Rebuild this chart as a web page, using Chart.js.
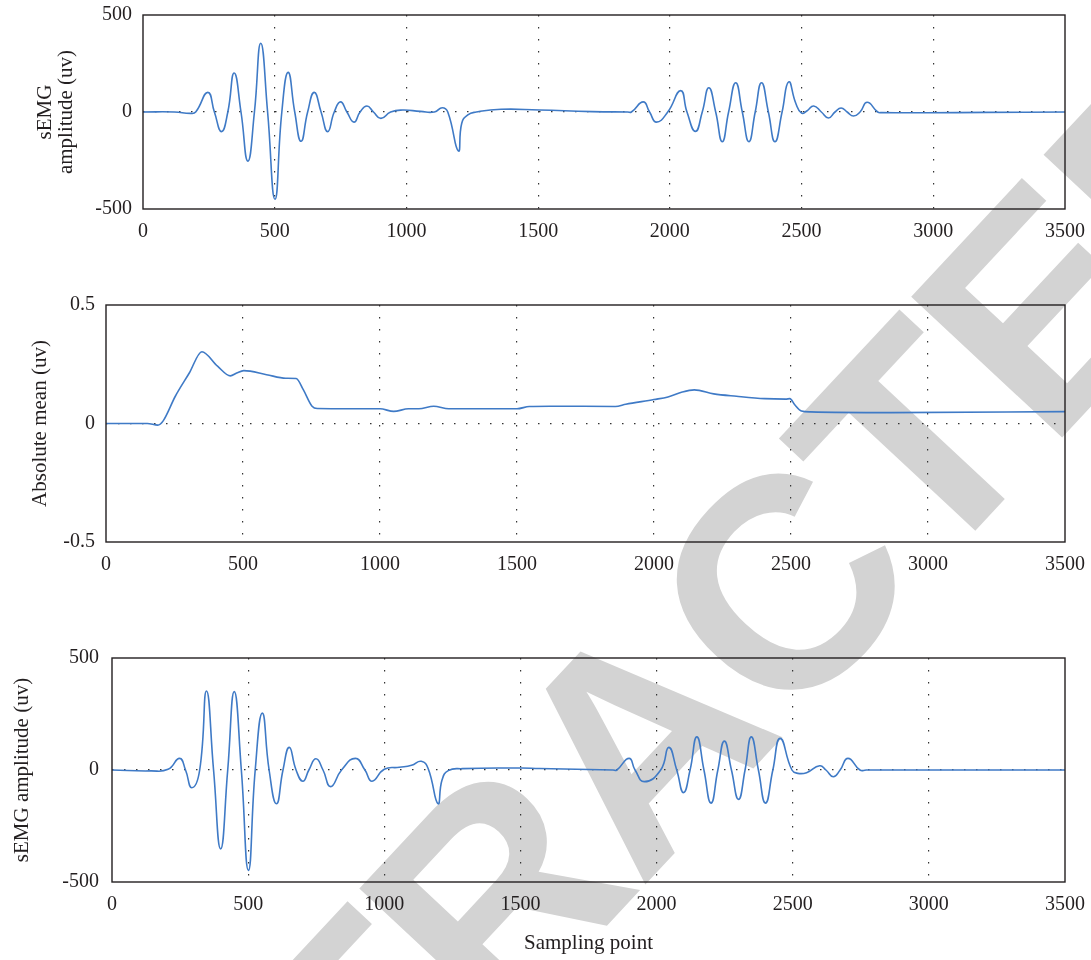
<!DOCTYPE html>
<html>
<head>
<meta charset="utf-8">
<script src="https://cdn.jsdelivr.net/npm/chart.js@4.4.1/dist/chart.umd.min.js"></script>
<style>
  body { margin: 0; background: #fff; width: 1091px; height: 960px; position: relative; overflow: hidden; }
  #stamp {
    position: absolute; left: 636px; top: 742px; z-index: 0;
    font: bold 300px "Liberation Sans", Arial, sans-serif; line-height: 1; letter-spacing: -6px;
    color: #d3d3d3; white-space: nowrap;
    transform: translate(-50%, -50%) rotate(-47deg);
  }
  .panel { position: absolute; left: 0; width: 1096px; z-index: 1; }
</style>
</head>
<body>
<div id="stamp">RETRACTED</div>
<div class="panel" style="top:-10px;height:270px"><canvas id="raw-chart"></canvas></div>
<div class="panel" style="top:260px;height:330px"><canvas id="mean-chart"></canvas></div>
<div class="panel" style="top:590px;height:370px"><canvas id="filtered-chart"></canvas></div>
<script>
const xTicks = [0, 500, 1000, 1500, 2000, 2500, 3000, 3500];
const ampTicks = [-500, 0, 500];
const meanTicks = [-0.5, 0, 0.5];

// top panel: raw sEMG
const rawX = [0, 120, 180, 200, 246, 271, 298, 322, 346, 372, 398, 423, 447, 473, 501, 527, 551, 576, 600, 625,
  650, 676, 701, 726, 750, 774, 801, 824, 850, 875, 903, 940, 986, 1053, 1106, 1136, 1157, 1197, 1210, 1233,
  1265, 1359, 1505, 1705, 1840, 1854, 1899, 1923, 1949, 1992, 2041, 2065, 2097, 2123, 2148, 2174, 2199, 2223, 2250,
  2275, 2300, 2324, 2348, 2374, 2399, 2426, 2451, 2478, 2500, 2520, 2546, 2575, 2602, 2627, 2650, 2673, 2697,
  2722, 2749, 2789, 2805, 2973, 3200, 3500];
const rawY = [0, 0, -7, 0, 101, 0, -101, 0, 201, 0, -253, 0, 354, 0, -450, 0, 204, 0, -151, 0,
  101, 0, -101, 0, 52, 0, -52, 0, 31, 0, -33, 0, 10, 3, 0, 22, 0, -201, -58, -15,
  0, 14, 10, 2, 0, 0, 52, 0, -52, 0, 110, 0, -100, 0, 125, 0, -153, 0, 151,
  0, -153, 0, 151, 0, -153, 0, 155, 45, -6, 5, 31, 0, -31, 0, 21, 0, -21,
  0, 50, 0, -3, -4, -2, 0];

// middle panel: absolute mean
const meanX = [0, 151, 189, 208, 253, 304, 350, 407, 454, 477, 503, 586, 656, 694, 720, 752, 771, 893, 1000,
  1050, 1104, 1142, 1196, 1251, 1500, 1545, 1619, 1859, 1897, 2000, 2051, 2103, 2147, 2218, 2301, 2404,
  2481, 2496, 2513, 2538, 2571, 2865, 3500];
const meanY = [0, 0, -0.007, 0.01, 0.115, 0.213, 0.303, 0.242, 0.201, 0.213, 0.223, 0.206, 0.191, 0.19, 0.143,
  0.073, 0.063, 0.062, 0.062, 0.051, 0.062, 0.062, 0.073, 0.062, 0.062, 0.072, 0.073, 0.072, 0.081, 0.101,
  0.112, 0.133, 0.142, 0.125, 0.115, 0.105, 0.103, 0.105, 0.08, 0.053, 0.049, 0.046, 0.05];

// bottom panel: filtered sEMG
const filtX = [0, 142, 206, 248, 270, 293, 322, 347, 373, 399, 425, 449, 475, 501, 526, 552, 577, 604, 628, 651,
  676, 701, 723, 749, 775, 803, 843, 894, 929, 955, 1000, 1055, 1100, 1136, 1161, 1197, 1212, 1235, 1287,
  1500, 1570, 1840, 1854, 1899, 1921, 1955, 2015, 2045, 2074, 2099, 2123, 2148, 2174, 2200, 2225, 2249, 2275,
  2301, 2325, 2348, 2374, 2400, 2427, 2454, 2497, 2519, 2551, 2599, 2622, 2649, 2674, 2703, 2747, 2770, 3500];
const filtY = [0, -4, 3, 52, 0, -79, 0, 353, 0, -352, 0, 350, 0, -448, 0, 254, 0, -151, 0, 101,
  0, -50, 0, 50, 0, -74, 0, 52, 0, -50, 3, 12, 21, 39, 7, -150, -45, -3, 6,
  9, 7, 0, 0, 52, 0, -52, 0, 101, 0, -101, 0, 148, 0, -148, 0, 129, 0,
  -131, 0, 148, 0, -148, 0, 141, 0, -15, -12, 19, 0, -30, 0, 52, 0, 0, 0];

const serif = "'Liberation Serif', 'Times New Roman', serif";
const ink = "#231f20";
Chart.defaults.font.family = serif;
Chart.defaults.color = ink;

const frame = {
  id: "frame",
  afterDraw(chart) {
    const a = chart.chartArea;
    const ctx = chart.ctx;
    ctx.save();
    ctx.setLineDash([]);
    ctx.strokeStyle = ink;
    ctx.lineWidth = 1.4;
    ctx.strokeRect(a.left, a.top, a.right - a.left, a.bottom - a.top);
    ctx.restore();
  },
};

function makePanel(id, xs, ys, yTicks, opt) {
  const points = xs.map((x, i) => ({ x: x, y: ys[i] }));
  const xEdge = [xTicks[0], xTicks[xTicks.length - 1]];

  return new Chart(document.getElementById(id), {
    type: "line",
    data: {
      datasets: [{
        data: points,
        borderColor: "#3f7ac6",
        borderWidth: 1.6,
        pointRadius: 0,
        cubicInterpolationMode: opt.smooth,
        tension: 0.5,
        fill: false,
      }],
    },
    options: {
      responsive: true,
      maintainAspectRatio: false,
      animation: false,
      layout: { padding: { top: opt.padTop, right: 26, left: 0, bottom: 0 } },
      plugins: { legend: { display: false }, tooltip: { enabled: false } },
      scales: {
        x: {
          type: "linear",
          min: xEdge[0],
          max: xEdge[1],
          afterBuildTicks: (s) => { s.ticks = xTicks.map((v) => ({ value: v })); },
          afterFit: (s) => { s.height = opt.xHeight; },
          grid: {
            drawTicks: false,
            lineWidth: 1.2,
            color: (c) => (c.tick && xEdge.includes(c.tick.value) ? "transparent" : "#333"),
          },
          border: { display: false, dash: [1.5, 10.5] },
          ticks: {
            padding: 11,
            autoSkip: false,
            maxRotation: 0,
            font: { size: 20 },
            callback: (v) => String(v),
          },
          title: {
            display: !!opt.xTitle,
            text: opt.xTitle || "",
            font: { size: 21 },
            padding: { top: 0, bottom: 4 },
          },
        },
        y: {
          type: "linear",
          min: yTicks[0],
          max: yTicks[yTicks.length - 1],
          afterBuildTicks: (s) => { s.ticks = yTicks.map((v) => ({ value: v })); },
          afterFit: (s) => { s.width = opt.yWidth; },
          grid: {
            drawTicks: false,
            lineWidth: 1.2,
            color: (c) => (c.tick && c.tick.value === 0 ? "#333" : "transparent"),
          },
          border: { display: false, dash: [1.5, 10.5] },
          ticks: {
            padding: opt.tickPad,
            font: { size: 20 },
            callback: (v) => String(v),
          },
          title: {
            display: true,
            text: opt.yTitle,
            font: { size: 21, lineHeight: 1 },
            padding: { top: opt.titlePad, bottom: 0 },
          },
        },
      },
    },
    plugins: [frame],
  });
}

makePanel("raw-chart", rawX, rawY, ampTicks, {
  padTop: 25, xHeight: 51, yWidth: 143, tickPad: 11, titlePad: 35, smooth: "default",
  yTitle: ["sEMG", "amplitude (uv)"],
});
makePanel("mean-chart", meanX, meanY, meanTicks, {
  padTop: 45, xHeight: 48, yWidth: 106, tickPad: 11, titlePad: 29.5, smooth: "monotone",
  yTitle: "Absolute mean (uv)",
});
makePanel("filtered-chart", filtX, filtY, ampTicks, {
  padTop: 68, xHeight: 78, yWidth: 112, tickPad: 13, titlePad: 11.5, smooth: "default",
  yTitle: "sEMG amplitude (uv)", xTitle: "Sampling point",
});
</script>
</body>
</html>
